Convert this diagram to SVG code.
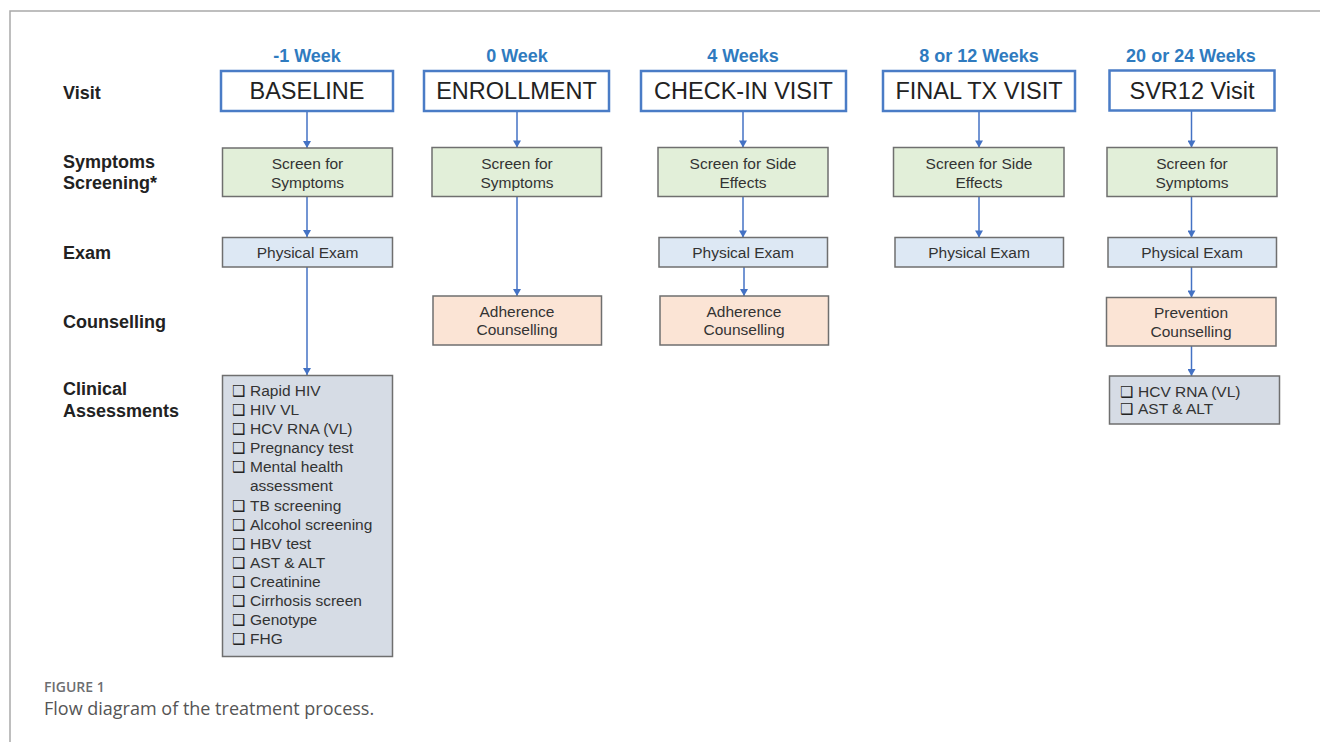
<svg xmlns="http://www.w3.org/2000/svg" width="1320" height="742" viewBox="0 0 1320 742">
<style>
.frame{fill:none;stroke:#a9a9a9;stroke-width:1.5}
.rowlbl{font-family:"Liberation Sans",Arial,sans-serif;font-weight:bold;font-size:18px;fill:#222}
.hdr{font-family:"Liberation Sans",Arial,sans-serif;font-weight:bold;font-size:18px;fill:#2f7bbf;text-anchor:middle}
.visit rect{fill:#fff;stroke:#4a7cc6;stroke-width:2.5}
.visit text{font-family:"Liberation Sans",Arial,sans-serif;font-size:23.5px;fill:#222;text-anchor:middle}
.box rect{stroke:#6f6f6f;stroke-width:1.5}
.box text{font-family:"Liberation Sans",Arial,sans-serif;font-size:15.5px;fill:#333;text-anchor:middle}
.green rect{fill:#e2efd9}
.blue rect{fill:#dde8f4}
.peach rect{fill:#fbe4d5}
.gray rect{fill:#d6dce5}
.list text{text-anchor:start}
.cb{font-family:"DejaVu Sans",sans-serif;font-size:15px;font-weight:bold;fill:#222}
.conn line{stroke:#4472c4;stroke-width:1.5;marker-end:url(#arr)}
.fig{font-family:"Open Sans",Lato,sans-serif;font-weight:600;font-size:14px;fill:#6d6e71}
.cap{font-family:"Open Sans",Lato,sans-serif;font-size:18px;fill:#555}
</style>
<defs>
<marker id="arr" markerUnits="userSpaceOnUse" markerWidth="8" markerHeight="8" viewBox="0 0 8 8" refX="8" refY="4" orient="auto">
<path d="M1,0 L8,4 L1,8 Z" fill="#4472c4"/>
</marker>
</defs>
<path class="frame" d="M10,742 L10,11 L1320,11"/>

<g id="row-labels">
<text class="rowlbl" x="63" y="99">Visit</text>
<text class="rowlbl" x="63" y="168">Symptoms</text>
<text class="rowlbl" x="63" y="189">Screening*</text>
<text class="rowlbl" x="63" y="259">Exam</text>
<text class="rowlbl" x="63" y="328">Counselling</text>
<text class="rowlbl" x="63" y="395">Clinical</text>
<text class="rowlbl" x="63" y="417">Assessments</text>
</g>

<g id="headers">
<text class="hdr" x="307" y="62">-1 Week</text>
<text class="hdr" x="517" y="62">0 Week</text>
<text class="hdr" x="743" y="62">4 Weeks</text>
<text class="hdr" x="979" y="62">8 or 12 Weeks</text>
<text class="hdr" x="1191" y="62">20 or 24 Weeks</text>
</g>

<g id="connectors" class="conn">
<line x1="307" y1="111" x2="307" y2="148"/>
<line x1="307" y1="197" x2="307" y2="237"/>
<line x1="307" y1="267" x2="307" y2="375"/>
<line x1="517" y1="111" x2="517" y2="147.5"/>
<line x1="517" y1="197" x2="517" y2="296"/>
<line x1="743" y1="111" x2="743" y2="147.5"/>
<line x1="743" y1="197" x2="743" y2="237.5"/>
<line x1="744" y1="267" x2="744" y2="296"/>
<line x1="979" y1="111" x2="979" y2="147.5"/>
<line x1="979" y1="197" x2="979" y2="237.5"/>
<line x1="1191.5" y1="110.5" x2="1191.5" y2="147.5"/>
<line x1="1191.5" y1="197" x2="1191.5" y2="237.5"/>
<line x1="1191.5" y1="267" x2="1191.5" y2="297.5"/>
<line x1="1191.5" y1="346" x2="1191.5" y2="376"/>
</g>

<g id="baseline" class="visit"><rect x="221" y="71" width="172" height="40"/><text x="307" y="99">BASELINE</text></g>
<g id="enrollment" class="visit"><rect x="424" y="71" width="185" height="40"/><text x="516.5" y="99">ENROLLMENT</text></g>
<g id="checkin" class="visit"><rect x="641" y="71" width="205" height="40"/><text x="743.5" y="99">CHECK-IN VISIT</text></g>
<g id="finaltx" class="visit"><rect x="883" y="71" width="192" height="40"/><text x="979" y="99">FINAL TX VISIT</text></g>
<g id="svr12" class="visit"><rect x="1109.5" y="70.5" width="165" height="40"/><text x="1192" y="99">SVR12 Visit</text></g>

<g id="screen1" class="box green"><rect x="222.5" y="148" width="170" height="48.5"/><text x="307.5" y="169">Screen for</text><text x="307.5" y="187.5">Symptoms</text></g>
<g id="screen2" class="box green"><rect x="432" y="147.5" width="169.5" height="49"/><text x="517" y="169">Screen for</text><text x="517" y="187.5">Symptoms</text></g>
<g id="screen3" class="box green"><rect x="658" y="147.5" width="170" height="49"/><text x="743" y="169">Screen for Side</text><text x="743" y="187.5">Effects</text></g>
<g id="screen4" class="box green"><rect x="893.5" y="147.5" width="170.5" height="49"/><text x="979" y="169">Screen for Side</text><text x="979" y="187.5">Effects</text></g>
<g id="screen5" class="box green"><rect x="1107" y="147.5" width="170" height="49"/><text x="1192" y="169">Screen for</text><text x="1192" y="187.5">Symptoms</text></g>

<g id="exam1" class="box blue"><rect x="222.5" y="237.5" width="170" height="29.5"/><text x="307.5" y="257.5">Physical Exam</text></g>
<g id="exam3" class="box blue"><rect x="659" y="237.5" width="168.5" height="29.5"/><text x="743" y="257.5">Physical Exam</text></g>
<g id="exam4" class="box blue"><rect x="895" y="237.5" width="168.5" height="29.5"/><text x="979" y="257.5">Physical Exam</text></g>
<g id="exam5" class="box blue"><rect x="1108" y="237.5" width="168.5" height="29.5"/><text x="1192" y="257.5">Physical Exam</text></g>

<g id="adherence2" class="box peach"><rect x="433" y="296" width="168.5" height="49"/><text x="517" y="316.5">Adherence</text><text x="517" y="335">Counselling</text></g>
<g id="adherence3" class="box peach"><rect x="660" y="296" width="168.5" height="49"/><text x="744" y="316.5">Adherence</text><text x="744" y="335">Counselling</text></g>
<g id="prevention5" class="box peach"><rect x="1106.5" y="297.5" width="169.5" height="48.5"/><text x="1191" y="318">Prevention</text><text x="1191" y="336.5">Counselling</text></g>

<g id="clinical1" class="box gray list"><rect x="222.5" y="375.5" width="170" height="281"/>
<text y="396"><tspan class="cb" x="232">❑</tspan><tspan x="250">Rapid HIV</tspan></text>
<text y="415"><tspan class="cb" x="232">❑</tspan><tspan x="250">HIV VL</tspan></text>
<text y="434"><tspan class="cb" x="232">❑</tspan><tspan x="250">HCV RNA (VL)</tspan></text>
<text y="453"><tspan class="cb" x="232">❑</tspan><tspan x="250">Pregnancy test</tspan></text>
<text y="472"><tspan class="cb" x="232">❑</tspan><tspan x="250">Mental health</tspan></text>
<text y="491"><tspan x="250">assessment</tspan></text>
<text y="510.5"><tspan class="cb" x="232">❑</tspan><tspan x="250">TB screening</tspan></text>
<text y="529.5"><tspan class="cb" x="232">❑</tspan><tspan x="250">Alcohol screening</tspan></text>
<text y="548.5"><tspan class="cb" x="232">❑</tspan><tspan x="250">HBV test</tspan></text>
<text y="567.5"><tspan class="cb" x="232">❑</tspan><tspan x="250">AST &amp; ALT</tspan></text>
<text y="586.5"><tspan class="cb" x="232">❑</tspan><tspan x="250">Creatinine</tspan></text>
<text y="605.5"><tspan class="cb" x="232">❑</tspan><tspan x="250">Cirrhosis screen</tspan></text>
<text y="624.5"><tspan class="cb" x="232">❑</tspan><tspan x="250">Genotype</tspan></text>
<text y="643.5"><tspan class="cb" x="232">❑</tspan><tspan x="250">FHG</tspan></text>
</g>

<g id="clinical5" class="box gray list"><rect x="1109.5" y="376" width="170" height="48"/>
<text y="397"><tspan class="cb" x="1120">❑</tspan><tspan x="1138">HCV RNA (VL)</tspan></text>
<text y="414"><tspan class="cb" x="1120">❑</tspan><tspan x="1138">AST &amp; ALT</tspan></text>
</g>

<text class="fig" x="44" y="692">FIGURE 1</text>
<text class="cap" x="44" y="715">Flow diagram of the treatment process.</text>
</svg>
